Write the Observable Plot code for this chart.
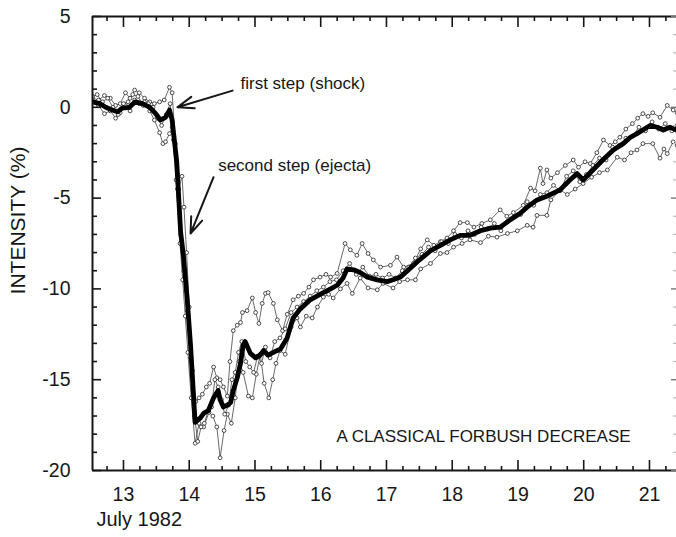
<!DOCTYPE html>
<html><head><meta charset="utf-8">
<script src="https://cdn.jsdelivr.net/npm/d3@7"></script>
<script src="https://cdn.jsdelivr.net/npm/@observablehq/plot@0.6"></script>
<style>
html,body{margin:0;padding:0;background:#fff;}
#chart svg{display:block;}
</style></head><body><div id="chart"></div>
<script>
// ---- data: [day of July 1982, intensity %] ----
const average = [
[12.53,0.3],[12.64,0.2],[12.73,0.0],[12.83,-0.15],[12.91,-0.25],[12.98,-0.05],[13.09,0.0],[13.18,0.3],[13.29,0.2],[13.40,0.0],
[13.49,-0.35],[13.56,-0.7],[13.64,-0.55],[13.70,-0.15],[13.74,-0.7],[13.81,-3.0],[13.87,-6.9],[13.91,-8.1],[13.97,-10.6],[14.02,-13.1],
[14.09,-17.35],[14.17,-17.1],[14.22,-16.85],[14.29,-16.7],[14.37,-16.0],[14.44,-15.6],[14.47,-16.1],[14.52,-16.5],[14.58,-16.4],[14.63,-16.25],
[14.67,-15.6],[14.73,-14.9],[14.78,-14.1],[14.82,-13.1],[14.85,-12.9],[14.93,-13.55],[15.01,-13.8],[15.08,-13.65],[15.13,-13.4],[15.20,-13.65],
[15.28,-13.5],[15.39,-13.3],[15.49,-12.7],[15.58,-11.6],[15.69,-11.1],[15.84,-10.6],[15.99,-10.3],[16.15,-10.0],[16.25,-9.8],[16.34,-9.4],
[16.40,-8.9],[16.50,-8.95],[16.60,-9.1],[16.71,-9.35],[16.86,-9.5],[17.01,-9.6],[17.10,-9.5],[17.21,-9.35],[17.32,-9.0],[17.47,-8.5],
[17.67,-7.9],[17.82,-7.6],[17.97,-7.3],[18.12,-7.05],[18.27,-7.05],[18.43,-6.8],[18.58,-6.65],[18.73,-6.6],[18.88,-6.2],[19.03,-5.85],
[19.14,-5.5],[19.29,-5.1],[19.44,-4.9],[19.64,-4.55],[19.79,-4.0],[19.90,-3.65],[19.99,-4.0],[20.14,-3.45],[20.29,-2.9],[20.45,-2.35],
[20.60,-2.0],[20.71,-1.65],[20.81,-1.45],[20.90,-1.25],[21.01,-1.0],[21.12,-1.1],[21.21,-1.25],[21.31,-1.1],[21.41,-1.25]
];
const stationA = [
[12.53,0.5],[12.62,0.4],[12.71,0.65],[12.80,0.5],[12.88,0.1],[12.95,0.2],[13.03,0.8],[13.10,0.5],[13.17,0.95],[13.24,0.8],
[13.32,0.5],[13.40,0.3],[13.47,0.2],[13.55,0.3],[13.62,0.4],[13.70,1.1],[13.74,0.8],[13.79,-2.0],[13.84,-4.5],[13.89,-3.8],
[13.92,-5.5],[13.96,-8.0],[14.00,-11.0],[14.05,-14.5],[14.10,-16.2],[14.15,-16.0],[14.20,-15.8],[14.26,-15.4],[14.31,-15.2],[14.37,-14.3],
[14.42,-14.9],[14.47,-15.0],[14.52,-15.4],[14.58,-15.9],[14.62,-14.0],[14.67,-12.3],[14.73,-12.0],[14.78,-11.85],[14.81,-11.3],[14.88,-11.2],
[14.96,-10.5],[15.01,-11.3],[15.06,-11.9],[15.11,-10.8],[15.16,-10.25],[15.20,-10.2],[15.28,-10.8],[15.34,-11.7],[15.42,-12.3],[15.49,-11.4],
[15.58,-10.6],[15.66,-10.4],[15.74,-10.25],[15.82,-9.9],[15.89,-9.5],[15.99,-9.35],[16.08,-9.2],[16.15,-9.35],[16.25,-9.15],[16.37,-7.5],
[16.45,-7.85],[16.55,-8.15],[16.63,-7.5],[16.72,-8.05],[16.80,-8.4],[16.91,-8.8],[17.06,-8.7],[17.16,-8.25],[17.26,-8.8],[17.41,-8.6],
[17.52,-7.8],[17.62,-7.3],[17.72,-7.6],[17.82,-7.4],[17.92,-7.2],[18.02,-6.8],[18.12,-6.35],[18.23,-6.35],[18.33,-6.6],[18.45,-6.4],
[18.58,-6.2],[18.73,-5.65],[18.83,-6.0],[18.93,-5.8],[19.08,-5.4],[19.19,-4.45],[19.26,-4.6],[19.34,-3.35],[19.38,-4.2],[19.44,-3.45],
[19.50,-3.9],[19.60,-3.6],[19.72,-3.2],[19.84,-2.9],[19.92,-3.3],[20.02,-3.0],[20.10,-3.1],[20.20,-2.5],[20.30,-1.8],[20.40,-2.1],
[20.48,-1.9],[20.55,-1.65],[20.64,-1.2],[20.74,-0.9],[20.82,-0.6],[20.90,-0.35],[20.98,-0.5],[21.05,-0.3],[21.16,-0.55],[21.27,0.1],
[21.36,-0.15],[21.42,-0.3]
];
const stationB = [
[12.53,0.3],[12.62,0.1],[12.71,-0.35],[12.80,-0.2],[12.88,-0.6],[12.95,-0.3],[13.03,0.1],[13.10,-0.2],[13.17,0.4],[13.24,0.2],
[13.32,0.3],[13.40,-0.2],[13.47,-0.7],[13.55,-1.4],[13.60,-2.0],[13.64,-1.9],[13.70,-1.45],[13.74,-1.1],[13.80,-4.0],[13.86,-7.5],
[13.90,-9.5],[13.94,-11.5],[13.98,-13.5],[14.03,-16.0],[14.09,-18.5],[14.15,-17.4],[14.22,-17.6],[14.30,-16.8],[14.36,-17.0],[14.42,-17.6],
[14.47,-19.3],[14.53,-17.8],[14.58,-16.9],[14.64,-17.4],[14.70,-16.0],[14.76,-14.0],[14.82,-14.6],[14.90,-15.9],[14.96,-16.0],[15.02,-14.7],
[15.08,-13.6],[15.14,-15.2],[15.21,-16.0],[15.27,-15.0],[15.32,-14.1],[15.38,-13.4],[15.46,-13.6],[15.55,-12.1],[15.64,-11.6],[15.69,-12.1],
[15.78,-11.5],[15.87,-11.6],[15.95,-11.0],[16.04,-10.45],[16.12,-10.3],[16.19,-10.5],[16.30,-10.0],[16.40,-9.7],[16.48,-10.25],[16.60,-9.4],
[16.72,-9.95],[16.86,-10.05],[16.95,-9.7],[17.10,-9.95],[17.20,-9.6],[17.32,-9.5],[17.44,-9.5],[17.52,-8.9],[17.67,-8.6],[17.82,-8.05],
[17.92,-8.0],[18.02,-7.7],[18.15,-7.5],[18.27,-7.3],[18.43,-7.45],[18.55,-7.1],[18.68,-7.15],[18.84,-6.95],[18.99,-6.8],[19.14,-6.5],
[19.23,-6.6],[19.29,-5.95],[19.44,-5.95],[19.50,-5.1],[19.64,-4.55],[19.75,-4.8],[19.87,-4.5],[19.99,-4.2],[20.12,-3.85],[20.24,-3.6],
[20.36,-3.45],[20.51,-2.75],[20.62,-2.9],[20.72,-2.5],[20.81,-2.35],[20.90,-2.0],[21.05,-2.0],[21.16,-2.8],[21.22,-2.3],[21.27,-2.55],
[21.36,-1.9],[21.42,-2.1]
];
const stationC = [
[12.53,0.6],[12.60,0.7],[12.68,0.3],[12.76,0.5],[12.84,0.0],[12.92,-0.4],[13.00,0.2],[13.07,0.3],[13.14,0.7],[13.22,0.6],
[13.30,0.1],[13.38,0.2],[13.45,0.0],[13.52,-0.6],[13.58,-1.0],[13.65,-0.4],[13.71,0.2],[13.76,-1.8],[13.82,-4.5],[13.87,-7.0],
[13.92,-9.0],[13.97,-11.2],[14.02,-13.8],[14.08,-17.0],[14.13,-18.4],[14.18,-17.6],[14.23,-17.4],[14.29,-16.7],[14.34,-16.5],[14.39,-15.0],
[14.44,-15.4],[14.49,-16.1],[14.54,-16.9],[14.60,-16.4],[14.65,-15.0],[14.70,-14.6],[14.75,-13.5],[14.80,-12.9],[14.86,-14.0],[14.92,-14.3],
[14.98,-14.6],[15.04,-13.7],[15.10,-14.1],[15.16,-13.2],[15.23,-13.8],[15.30,-12.9],[15.38,-12.7],[15.46,-12.2],[15.55,-11.3],[15.64,-11.0],
[15.74,-10.7],[15.84,-10.4],[15.94,-10.1],[16.04,-9.9],[16.14,-9.6],[16.24,-9.5],[16.34,-9.0],[16.44,-8.6],[16.54,-9.2],[16.64,-8.8],
[16.74,-9.3],[16.84,-9.2],[16.94,-9.4],[17.04,-9.2],[17.14,-9.4],[17.24,-9.0],[17.34,-8.8],[17.44,-8.3],[17.54,-8.1],[17.64,-7.7],
[17.74,-7.9],[17.84,-7.4],[17.94,-7.5],[18.04,-7.0],[18.14,-7.2],[18.24,-6.8],[18.34,-7.0],[18.44,-6.6],[18.54,-6.7],[18.64,-6.4],
[18.74,-6.8],[18.84,-6.3],[18.94,-6.0],[19.04,-5.9],[19.14,-5.2],[19.24,-5.4],[19.34,-4.8],[19.44,-4.7],[19.54,-4.3],[19.64,-4.6],
[19.74,-3.8],[19.84,-3.5],[19.94,-4.1],[20.04,-3.7],[20.14,-3.2],[20.24,-2.8],[20.34,-2.9],[20.44,-2.2],[20.54,-2.1],[20.64,-1.7],
[20.74,-1.6],[20.84,-1.1],[20.94,-1.3],[21.04,-0.8],[21.14,-1.2],[21.24,-0.9],[21.34,-1.3],[21.42,-1.0]
];
// ticks
const xMajor = [13,14,15,16,17,18,19,20,21];
const xMinor = d3.range(12.75, 21.41, 0.25).filter(d => Math.abs(d - Math.round(d)) > 0.01);
const yMajor = [5,0,-5,-10,-15,-20];
const yMinor = d3.range(-19, 5, 1).filter(d => d % 5 !== 0);
// annotations
const notes = [
  {day:14.78, pct:1.32, text:"first step (shock)"},
  {day:14.44, pct:-3.2, text:"second step (ejecta)"},
  {day:16.24, pct:-18.15, text:"A CLASSICAL FORBUSH DECREASE"}
];
const arrows = [
  {x1:14.66, y1:0.92, x2:13.82, y2:0.0},
  {x1:14.37, y1:-3.85, x2:14.02, y2:-6.95}
];
const xLabel = "July 1982";
const yLabel = "INTENSITY (%)";

// ---- build ----
const thin = [["A",stationA],["B",stationB],["C",stationC]]
  .flatMap(([s, arr]) => arr.map(([day, pct]) => ({s, day, pct})));
const avg = average.map(([day, pct]) => ({day, pct}));
const font = '"Liberation Sans", Arial, Helvetica, sans-serif';
const xDomain = [12.529, 21.411];
const yDomain = [-20, 5];
const ink = "#161616";

const chart = Plot.plot({
  width: 676, height: 537,
  marginLeft: 92, marginRight: 0, marginTop: 16, marginBottom: 67,
  style: {fontFamily: font, fontSize: "19px", color: ink, background: "#fff", overflow: "visible"},
  x: {domain: xDomain, axis: null, label: null},
  y: {domain: yDomain, axis: null, label: null},
  marks: [
    Plot.line(thin, {x: "day", y: "pct", z: "s", stroke: "#444", strokeWidth: 0.8, clip: true}),
    Plot.dot(thin, {x: "day", y: "pct", r: 1.9, fill: "white", stroke: "#222", strokeWidth: 0.8, clip: true}),
    Plot.line(avg, {x: "day", y: "pct", stroke: "#000", strokeWidth: 4.8, strokeLinejoin: "round", clip: true}),
    // spines
    Plot.ruleY(yDomain, {stroke: ink, strokeWidth: 2}),
    Plot.ruleX([xDomain[0]], {stroke: ink, strokeWidth: 2}),
    // inward ticks
    Plot.axisX(xMajor, {anchor: "top", frameAnchor: "bottom", tickSize: 11, text: null, label: null, stroke: ink, strokeWidth: 1.6}),
    Plot.axisX(xMinor, {anchor: "top", frameAnchor: "bottom", tickSize: 5, text: null, label: null, stroke: ink, strokeWidth: 1.6}),
    Plot.axisX(xMajor, {anchor: "bottom", frameAnchor: "top", tickSize: 11, text: null, label: null, stroke: ink, strokeWidth: 1.6}),
    Plot.axisX(xMinor, {anchor: "bottom", frameAnchor: "top", tickSize: 5, text: null, label: null, stroke: ink, strokeWidth: 1.6}),
    Plot.axisY(yMajor, {anchor: "right", frameAnchor: "left", tickSize: 8, text: null, label: null, stroke: ink, strokeWidth: 1.6}),
    Plot.axisY(yMinor, {anchor: "right", frameAnchor: "left", tickSize: 4, text: null, label: null, stroke: ink, strokeWidth: 1.6}),
    Plot.axisY(yMajor, {anchor: "left", frameAnchor: "right", tickSize: 5, text: null, label: null, stroke: "#777", strokeWidth: 1.4}),
    Plot.axisY(yMinor, {anchor: "left", frameAnchor: "right", tickSize: 3, text: null, label: null, stroke: "#bbb", strokeWidth: 1.2}),
    // tick labels
    Plot.axisX(xMajor, {anchor: "bottom", tickSize: 0, tickPadding: 17, label: null, fontSize: 19.5, tickFormat: d => String(d)}),
    Plot.axisY(yMajor, {anchor: "left", tickSize: 0, tickPadding: 22, label: null, fontSize: 19.5, tickFormat: d => String(d)}),
    // axis titles
    Plot.text([xLabel], {frameAnchor: "bottom-left", textAnchor: "start", dx: 4, dy: 55, fontSize: 20, fill: ink}),
    Plot.text([yLabel], {frameAnchor: "left", textAnchor: "middle", rotate: -90, dx: -74, dy: -23, fontSize: 21, letterSpacing: "0.8px", fill: ink}),
    // annotations
    Plot.arrow(arrows, {x1: "x1", y1: "y1", x2: "x2", y2: "y2", stroke: ink, strokeWidth: 2, headLength: 13, headAngle: 40}),
    Plot.text(notes, {x: "day", y: "pct", text: "text", textAnchor: "start", fontSize: 17, fill: ink})
  ]
});
document.getElementById("chart").append(chart);
</script>
</body></html>
